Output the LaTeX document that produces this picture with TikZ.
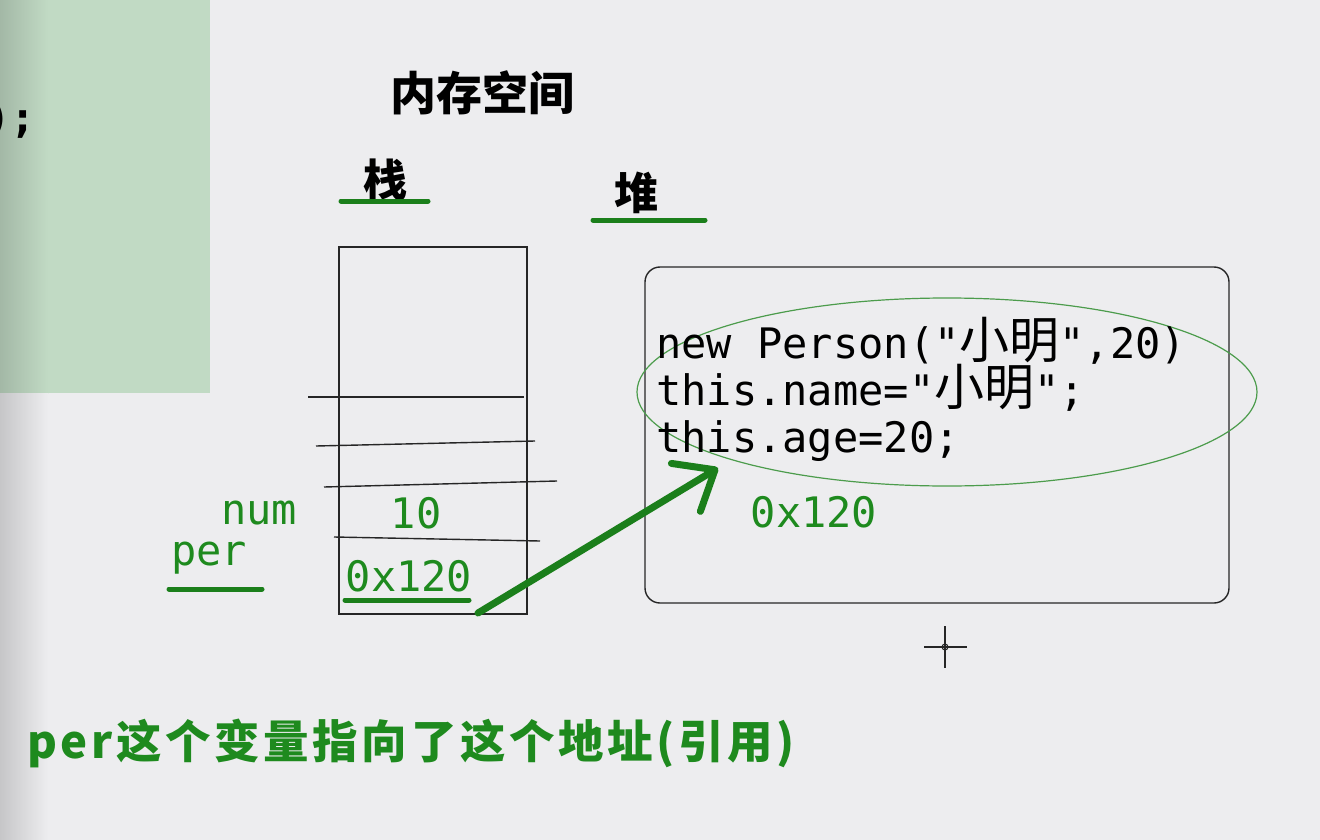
\documentclass[tikz,border=0pt]{standalone}
\usepackage{fontspec}
\usetikzlibrary{arrows.meta}
\newfontfamily\cjk{Noto Sans CJK SC}
\newfontfamily\cjkwide[LetterSpace=8]{Noto Sans CJK SC}
\newfontfamily\mono{DejaVu Sans Mono}
\definecolor{bgGray}{HTML}{EDEDEF}
\definecolor{panelGreen}{HTML}{C1DAC4}
\definecolor{panelEdge}{HTML}{A3B8A6}
\definecolor{stripGray}{HTML}{C6C6C8}
\definecolor{inkGreen}{HTML}{1E8A1E}
\definecolor{penGreen}{HTML}{1B7F1B}
\definecolor{ringGreen}{HTML}{4C9C4C}
\definecolor{lineBlack}{HTML}{262626}

\begin{document}
\begin{tikzpicture}[x=1pt,y=-1pt,
  biaoti/.style={font=\cjk\bfseries\fontsize{46}{50}\selectfont,inner sep=0},
  daima/.style={font=\mono\fontsize{42}{46}\selectfont,inner sep=0,anchor=base west},
  lvzi/.style={font=\mono\fontsize{42}{46}\selectfont,text=inkGreen,inner sep=0},
  huaxian/.style={penGreen,line width=5pt,line cap=round},
  gexian/.style={lineBlack,line width=1.4pt}]
\useasboundingbox (0,0) rectangle (1320,840);
% screen background and code panel
\fill[bgGray] (0,0) rectangle (1320,840);
\fill[panelGreen] (0,0) rectangle (210,393);
\shade[left color=panelEdge,right color=panelGreen] (0,0) rectangle (48,393);
\shade[left color=stripGray,right color=bgGray] (0,393) rectangle (48,840);
\node[font=\mono\bfseries\fontsize{42}{46}\selectfont,inner sep=0,anchor=base east] (codeTail) at (36,133) {);};
% titles
\node[biaoti] (title) at (482,93) {内存空间};
\node[biaoti,font=\cjk\bfseries\fontsize{44}{48}\selectfont] (zhan) at (385,180) {栈};
\draw[huaxian] (341,201) -- (428,201);
\node[biaoti,font=\cjk\bfseries\fontsize{44}{48}\selectfont] (dui) at (636,193) {堆};
\draw[huaxian] (593,220) -- (705,220);
% stack
\node[draw=lineBlack,line width=1.4pt,minimum width=188pt,minimum height=367pt,inner sep=0] (stack) at (433,430.5) {};
\draw[gexian] (308,397) -- (524,397);
\draw[gexian] (316,446) -- (535,441);
\draw[gexian] (324,487) -- (557,481);
\draw[gexian] (334,537) -- (540,541);
\node[lvzi] (num) at (259,513) {num};
\node[lvzi] (numVal) at (416,513) {10};
\node[lvzi] (per) at (209,558) {per};
\draw[huaxian] (169,589) -- (262,589);
\node[lvzi] (perVal) at (409,576) {0x120};
\draw[huaxian] (345,600) -- (469,600);
% heap
\node[draw=lineBlack,line width=1.4pt,rounded corners=15pt,minimum width=584pt,minimum height=336pt,inner sep=0] (heap) at (937,435) {};
\draw[ringGreen,line width=1.2pt] (947,392) ellipse [x radius=310,y radius=94];
\node[daima] (code1) at (656,358) {new Person("{\cjk\fontsize{50}{54}\selectfont 小明}",20)};
\node[daima] (code2) at (656,405) {this.name="{\cjk\fontsize{50}{54}\selectfont 小明}";};
\node[daima] (code3) at (656,452) {this.age=20;};
\node[lvzi] (addr) at (814,512) {0x120};
% reference arrow
\coordinate (ptrTail) at (478,613);
\coordinate (ptrHead) at (718,468);
\draw[penGreen,line width=7pt,line cap=round,-{Straight Barb[round,length=34pt,width=56pt]}] (ptrTail) -- (ptrHead);
% mouse cursor
\draw[lineBlack,line width=1.3pt] (945,626) -- (945,668) (924,647) -- (967,647);
\draw[lineBlack,line width=1pt] (945,647) circle [radius=3];
% note
\node[inner sep=0,anchor=base west,text=inkGreen,font=\cjkwide\bfseries\fontsize{45.5}{50}\selectfont] (note) at (27,758)
  {per这个变量指向了这个地址(引用)};
\end{tikzpicture}
\end{document}
